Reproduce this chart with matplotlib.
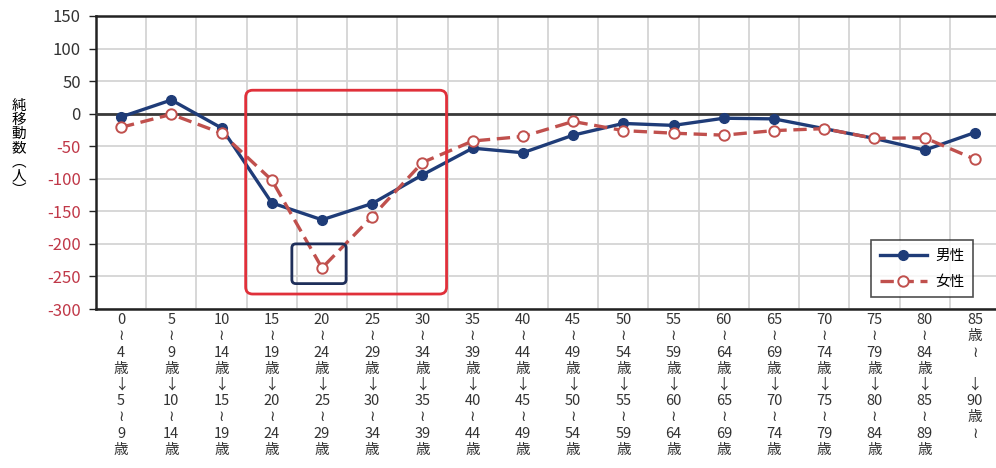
import matplotlib
matplotlib.use("Agg")
import matplotlib.pyplot as plt
from matplotlib.patches import FancyBboxPatch
import numpy as np

plt.rcParams['font.family'] = ['Noto Sans CJK JP', 'DejaVu Sans']

# 年齢階級（5歳階級 → 5年後）
age_from = ["0\n≀\n4\n歳", "5\n≀\n9\n歳", "10\n≀\n14\n歳", "15\n≀\n19\n歳",
            "20\n≀\n24\n歳", "25\n≀\n29\n歳", "30\n≀\n34\n歳", "35\n≀\n39\n歳",
            "40\n≀\n44\n歳", "45\n≀\n49\n歳", "50\n≀\n54\n歳", "55\n≀\n59\n歳",
            "60\n≀\n64\n歳", "65\n≀\n69\n歳", "70\n≀\n74\n歳", "75\n≀\n79\n歳",
            "80\n≀\n84\n歳", "85\n歳\n≀\n"]
age_to = ["5\n≀\n9\n歳", "10\n≀\n14\n歳", "15\n≀\n19\n歳", "20\n≀\n24\n歳",
          "25\n≀\n29\n歳", "30\n≀\n34\n歳", "35\n≀\n39\n歳", "40\n≀\n44\n歳",
          "45\n≀\n49\n歳", "50\n≀\n54\n歳", "55\n≀\n59\n歳", "60\n≀\n64\n歳",
          "65\n≀\n69\n歳", "70\n≀\n74\n歳", "75\n≀\n79\n歳", "80\n≀\n84\n歳",
          "85\n≀\n89\n歳", "90\n歳\n≀\n"]
tick_labels = [f"{a}\n↓\n{b}" for a, b in zip(age_from, age_to)]

male = [-5, 21, -22, -137, -163, -138, -94, -53, -60, -33, -15, -18, -7, -8, -23, -38, -56, -29]
female = [-21, -1, -30, -102, -237, -158, -75, -42, -35, -12, -26, -30, -33, -26, -23, -38, -37, -70]

yticks = np.arange(-300, 151, 50)

fig = plt.figure(figsize=(9.96, 4.68), dpi=100)
ax = fig.add_axes([96/996, 159/468, 904/996, 293/468])

x = np.arange(len(male))
ax.plot(x, male, color='#1f3c78', lw=2.4, marker='o', ms=7, mfc='#1f3c78',
        mec='#1f3c78', label='男性', zorder=4)
ax.plot(x, female, color='#c0504d', lw=2.4, ls=(0, (4, 2)), marker='o', ms=7.5,
        mfc='white', mec='#c0504d', mew=1.4, label='女性', zorder=5)

ax.axhline(0, color='#3a3a3a', lw=2, zorder=3)

ax.set_xlim(-0.5, 17.5)
ax.set_ylim(-300, 150)
ax.set_yticks(yticks)
ax.set_yticklabels([str(v) for v in yticks], fontsize=12)
for lab, v in zip(ax.get_yticklabels(), yticks):
    lab.set_color('#c03848' if v < 0 else '#333333')

# 目盛線（縦は階級の境目）
ax.set_xticks(x)
ax.set_xticklabels(tick_labels, fontsize=10.5, linespacing=1.2, va='top', color='#333333')
ax.set_xticks(np.arange(-0.5, 17.6, 1), minor=True)
ax.tick_params(axis='x', which='both', length=0, pad=3)
ax.tick_params(axis='y', length=5, width=1, color='#222222', pad=6)
ax.grid(True, which='minor', axis='x', color='#d4d4d4', lw=1.3)
ax.grid(True, which='major', axis='y', color='#d4d4d4', lw=1.3)
ax.set_axisbelow(True)

for side in ['left', 'bottom', 'top']:
    ax.spines[side].set_color('#222222')
    ax.spines[side].set_linewidth(1.8)
ax.spines['right'].set_visible(False)

ax.set_ylabel("純\n移\n動\n数\n︵\n人\n︶", rotation=0, fontsize=10.5,
              linespacing=1.0, va='center', ha='center')
ax.yaxis.set_label_coords(-0.085, 0.55)

# 注目範囲の枠
px_x, px_y = 1 / 50.0, 1 / 0.651
red_box = FancyBboxPatch((2.48, -277), 4.0, 313,
                         boxstyle=f"round,pad=0,rounding_size={7 * px_x}",
                         mutation_aspect=px_y / px_x, fill=False,
                         ec='#e0303a', lw=2, zorder=6)
ax.add_patch(red_box)
blue_box = FancyBboxPatch((3.4, -261), 1.08, 61,
                          boxstyle=f"round,pad=0,rounding_size={4 * px_x}",
                          mutation_aspect=px_y / px_x, fill=False,
                          ec='#1f2f5a', lw=2, zorder=6)
ax.add_patch(blue_box)

leg = ax.legend(loc='upper left', bbox_to_anchor=(768/904, (309-233)/293), fontsize=10.5,
                frameon=True, fancybox=False, handlelength=3.2, borderpad=0.6,
                labelspacing=0.8, handletextpad=0.6)
leg.get_frame().set_edgecolor('#222222')
leg.get_frame().set_linewidth(1.2)

plt.savefig("out.png", dpi=100)
plt.close()
